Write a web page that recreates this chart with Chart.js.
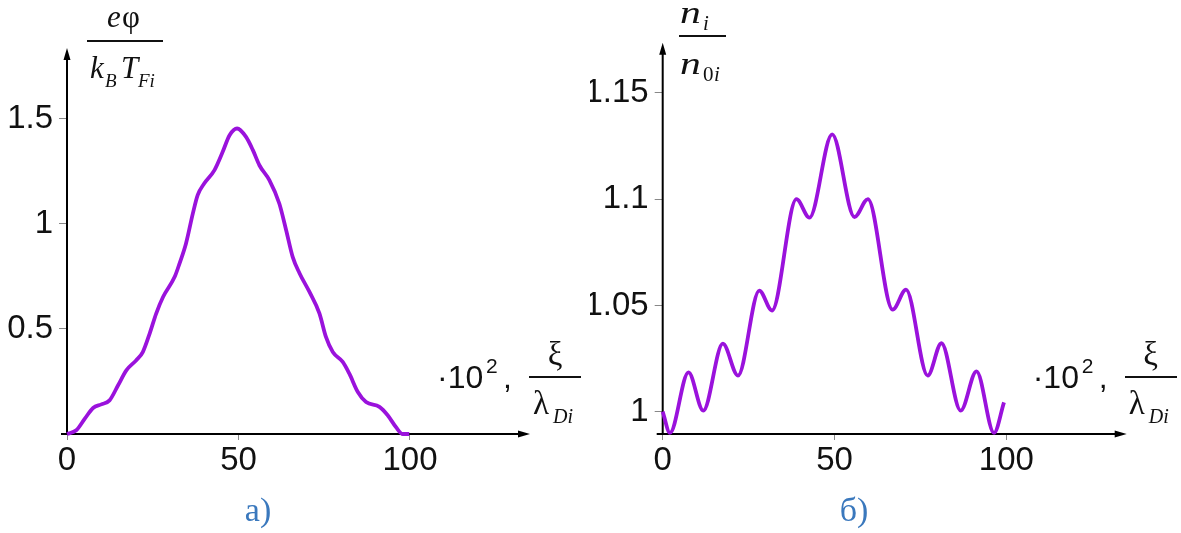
<!DOCTYPE html>
<html>
<head>
<meta charset="utf-8">
<script src="https://cdn.jsdelivr.net/npm/chart.js@4.4.0/dist/chart.umd.min.js"></script>
<style>
body { margin: 0; background: #fff; }
#wrap { position: relative; width: 1181px; height: 533px; overflow: hidden; }
canvas { position: absolute; top: 0; }
.t { position: absolute; white-space: nowrap; line-height: 1; transform-origin: 0 0; }
.rule { position: absolute; height: 1.5px; background: #111; }
</style>
</head>
<body>
<div id="wrap">
  <canvas id="chartA" width="590" height="533" style="left:0;width:590px;height:533px"></canvas>
  <canvas id="chartB" width="591" height="533" style="left:590px;width:591px;height:533px"></canvas>
</div>
<script>
// а) potential e*phi/(kB*TFi) vs xi
const xPhi = [0, 2.7, 5.2, 7.6, 10.0, 12.4, 14.9, 17.3, 20.2, 22.1, 24.1, 26.0, 28.0, 31.4, 32.8, 34.7,
              36.7, 38.1, 40.0, 43.0, 45.4, 47.4, 49.6, 52.2, 54.2, 56.1, 59.0, 61.9, 63.9, 65.8, 67.8,
              70.7, 73.6, 75.5, 77.5, 80.4, 82.3, 84.8, 87.2, 91.1, 93.5, 95.9, 97.9, 99.8];
const phi  = [0, 0.018, 0.073, 0.124, 0.141, 0.16, 0.232, 0.303, 0.351, 0.39, 0.478, 0.573, 0.652, 0.748, 0.811, 0.907,
              1.05, 1.137, 1.192, 1.256, 1.343, 1.422, 1.454, 1.414, 1.351, 1.279, 1.208, 1.097, 0.97, 0.843, 0.765,
              0.676, 0.574, 0.462, 0.39, 0.343, 0.288, 0.2, 0.152, 0.129, 0.089, 0.033, 0, 0];
// б) ion density n_i/n_0i vs xi
const xDens = [0, 2.1, 7.5, 11.8, 17.5, 21.9, 28.1, 31.8, 38.9, 42.7, 49.3, 55.8, 59.7, 66.9, 70.8, 77.1, 81.1, 86.7, 91.3, 96.4, 99.3];
const dens  = [1.0, 0.990, 1.0185, 1.0005, 1.032, 1.017, 1.057, 1.0476, 1.1, 1.0913, 1.1305, 1.0916, 1.1, 1.048, 1.0574, 1.017, 1.0322, 1.0005, 1.019, 0.990, 1.0044];

const xTicks = [0, 50, 100];
const phiTicks = [0.5, 1, 1.5];
const densTicks = [1, 1.05, 1.1, 1.15];

const purple = '#9a12dc';
const tickFont = { family: '"Liberation Sans", Arial, sans-serif', size: 33 };

const axesArrows = {
    id: 'axesArrows',
    beforeDatasetsDraw(chart) {
        const ctx = chart.ctx;
        const a = chart.chartArea;
        ctx.save();
        ctx.strokeStyle = '#000';
        ctx.fillStyle = '#000';
        ctx.lineWidth = 2;
        ctx.beginPath();
        ctx.moveTo(a.left - 6, a.bottom);
        ctx.lineTo(a.right - 8, a.bottom);
        ctx.moveTo(a.left, a.bottom);
        ctx.lineTo(a.left, a.top + 8);
        ctx.stroke();
        ctx.beginPath();
        ctx.moveTo(a.right, a.bottom);
        ctx.lineTo(a.right - 12, a.bottom - 3.5);
        ctx.lineTo(a.right - 12, a.bottom + 3.5);
        ctx.closePath();
        ctx.moveTo(a.left, a.top);
        ctx.lineTo(a.left - 3.5, a.top + 12);
        ctx.lineTo(a.left + 3.5, a.top + 12);
        ctx.closePath();
        ctx.fill();
        ctx.restore();
    }
};

function makeChart(id, xs, ys, yMin, yMax, yTicks, padTop, padRight, yWidth) {
    return new Chart(document.getElementById(id), {
        type: 'line',
        data: {
            datasets: [{
                data: xs.map((x, i) => ({ x: x, y: ys[i] })),
                borderColor: purple,
                borderWidth: 3.8,
                pointRadius: 0,
                cubicInterpolationMode: 'monotone',
                fill: false,
                clip: false
            }]
        },
        options: {
            responsive: false,
            animation: false,
            layout: { padding: { top: padTop, right: padRight, bottom: 39, left: 0 } },
            plugins: { legend: { display: false }, tooltip: { enabled: false } },
            scales: {
                x: {
                    type: 'linear',
                    min: 0,
                    max: 135,
                    afterBuildTicks: s => { s.ticks = xTicks.map(v => ({ value: v })); },
                    afterFit: s => { s.height = 60; },
                    grid: { drawOnChartArea: false, drawTicks: true, tickLength: 6, color: '#888' },
                    border: { display: false },
                    ticks: { font: tickFont, color: '#111', padding: 1, maxRotation: 0, autoSkip: false,
                             callback: v => String(v) }
                },
                y: {
                    type: 'linear',
                    min: yMin,
                    max: yMax,
                    afterBuildTicks: s => { s.ticks = yTicks.map(v => ({ value: v })); },
                    afterFit: s => { s.width = yWidth; },
                    grid: { drawOnChartArea: false, drawTicks: true, tickLength: 8, color: '#888' },
                    border: { display: false },
                    ticks: { font: tickFont, color: '#111', padding: 6, autoSkip: false,
                             callback: v => String(v) }
                }
            }
        },
        plugins: [axesArrows]
    });
}

makeChart('chartA', xPhi, phi, 0, 1.837, phiTicks, 48, 60, 67);
makeChart('chartB', xDens, dens, 0.9895, 1.1736, densTicks, 42.7, 54.3, 72.7);

// text labels
const wrap = document.getElementById('wrap');
function put(txt, x, base, size, o) {
    o = o || {};
    const s = document.createElement('span');
    s.className = 't';
    s.textContent = txt;
    s.style.fontFamily = o.serif ? '"Liberation Serif", "Times New Roman", serif' : '"Liberation Sans", Arial, sans-serif';
    s.style.fontSize = size + 'px';
    if (o.italic) s.style.fontStyle = 'italic';
    s.style.color = o.color || '#111';
    s.style.left = x + 'px';
    s.style.top = (base - (o.serif ? 0.8375 : 0.8465) * size) + 'px';
    if (o.center) s.style.transform = 'translateX(-50%)';
    if (o.sx) s.style.transform = 'scaleX(' + o.sx + ')';
    wrap.appendChild(s);
}
function rule(x, y, w) {
    const d = document.createElement('div');
    d.className = 'rule';
    d.style.left = x + 'px';
    d.style.top = y + 'px';
    d.style.width = w + 'px';
    wrap.appendChild(d);
}

// y titles
put('e', 107, 27, 31, { serif: true, italic: true });
put('φ', 122, 27, 31, { serif: true });
rule(87, 40, 76);
put('k', 90, 78, 31, { serif: true, italic: true });
put('B', 105, 87, 19, { serif: true, italic: true });
put('T', 121, 78, 31, { serif: true, italic: true });
put('Fi', 138, 87, 19, { serif: true, italic: true });

put('n', 680, 23, 32, { serif: true, italic: true, sx: 1.3 });
put('i', 703, 31, 21, { serif: true, italic: true });
rule(679, 35, 47);
put('n', 680, 74, 32, { serif: true, italic: true, sx: 1.3 });
put('0', 703, 82, 21, { serif: true });
put('i', 714, 82, 21, { serif: true, italic: true });

// x titles
[0, 595.7].forEach(ox => {
    put('·10', 437 + ox, 388, 32);
    put('2', 486 + ox, 373, 21);
    put(',', 503 + ox, 388, 32);
    put('ξ', 555 + ox, 366, 33, { serif: true, center: true });
    rule(529 + ox, 376, 52);
    put('λ', 533 + ox, 415, 33, { serif: true });
    put('Di', 553 + ox, 423, 20, { serif: true, italic: true });
});

// captions
put('а)', 258, 521, 34, { serif: true, center: true, color: '#3a78bd' });
put('б)', 854, 521, 34, { serif: true, center: true, color: '#3a78bd' });
</script>
</body>
</html>
